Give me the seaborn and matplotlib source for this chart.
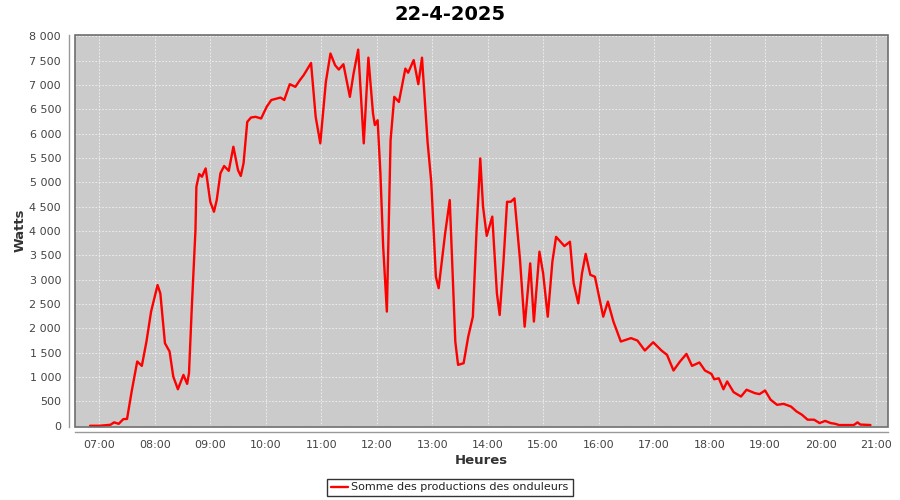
import matplotlib
matplotlib.use("Agg")
import matplotlib.pyplot as plt
import matplotlib.ticker as mticker
from matplotlib.patches import Rectangle
import seaborn as sns
import pandas as pd

times = [
    "06:50", "07:00", "07:12", "07:16", "07:21", "07:26", "07:30", "07:35", "07:41", "07:46",
    "07:51", "07:56", "08:03", "08:06", "08:11", "08:16", "08:20", "08:25", "08:31", "08:35",
    "08:37", "08:40", "08:44", "08:45", "08:48", "08:51", "08:55", "09:00", "09:04", "09:07",
    "09:11", "09:15", "09:20", "09:25", "09:30", "09:33", "09:36", "09:40", "09:44", "09:49",
    "09:55", "10:01", "10:06", "10:16", "10:20", "10:26", "10:32", "10:37", "10:41", "10:49",
    "10:54", "10:59", "11:05", "11:10", "11:15", "11:19", "11:24", "11:31", "11:35", "11:40",
    "11:46", "11:51", "11:56", "11:58", "12:01", "12:04", "12:07", "12:11", "12:15", "12:19",
    "12:24", "12:31", "12:34", "12:40", "12:45", "12:49", "12:55", "12:59", "13:04", "13:07",
    "13:14", "13:19", "13:25", "13:28", "13:34", "13:39", "13:44", "13:48", "13:52", "13:55",
    "13:59", "14:05", "14:10", "14:13", "14:17", "14:21", "14:25", "14:29", "14:35", "14:40",
    "14:46", "14:50", "14:56", "15:00", "15:05", "15:10", "15:14", "15:23", "15:29", "15:33",
    "15:38", "15:42", "15:46", "15:51", "15:56", "15:59", "16:05", "16:10", "16:16", "16:24",
    "16:35", "16:42", "16:50", "16:59", "17:08", "17:14", "17:21", "17:28", "17:35", "17:41",
    "17:49", "17:55", "18:02", "18:05", "18:10", "18:15", "18:19", "18:26", "18:34", "18:40",
    "18:49", "18:54", "19:00", "19:06", "19:13", "19:20", "19:28", "19:34", "19:40", "19:46",
    "19:53", "19:59", "20:05", "20:11", "20:16", "20:20", "20:36", "20:40", "20:43", "20:54",
]
watts = [
    0, 0, 20, 70, 40, 137, 140, 705, 1320, 1230,
    1730, 2345, 2890, 2720, 1695, 1525, 1010, 750, 1045, 860,
    1080, 2415, 4020, 4910, 5170, 5115, 5285, 4600, 4395, 4635,
    5185, 5335, 5235, 5730, 5250, 5130, 5390, 6240, 6330, 6345,
    6310, 6550, 6690, 6740, 6690, 7015, 6960, 7100, 7200, 7450,
    6345, 5800, 7060, 7645, 7405, 7315, 7425, 6755, 7235, 7725,
    5800, 7560, 6415, 6175, 6275, 5185, 3680, 2345, 5865, 6755,
    6650, 7335, 7250, 7510, 7015, 7560, 5830, 5010, 3060, 2825,
    3950, 4635, 1730, 1250, 1285, 1830, 2240, 4020, 5490, 4500,
    3900, 4295, 2720, 2275, 3335, 4600, 4600, 4670, 3405, 2035,
    3335, 2140, 3575, 3130, 2240, 3370, 3880, 3690, 3780, 2925,
    2515, 3130, 3530, 3100, 3060, 2790, 2240, 2550, 2140, 1730,
    1800, 1750, 1545, 1715, 1545, 1455, 1135, 1320, 1475, 1230,
    1300, 1135, 1065, 955, 975, 750, 910, 690, 600, 740,
    670, 650, 725, 535, 430, 450, 395, 295, 225, 125,
    125, 55, 100, 55, 40, 15, 15, 70, 25, 15,
]
x_tick_labels = ["07:00", "08:00", "09:00", "10:00", "11:00", "12:00", "13:00",
                 "14:00", "15:00", "16:00", "17:00", "18:00", "19:00", "20:00", "21:00"]
y_ticks = list(range(0, 8001, 500))
title = "22-4-2025"
series_name = "Somme des productions des onduleurs"

def to_hours(s):
    h, m = s.split(":")
    return int(h) + int(m) / 60.0

df = pd.DataFrame({"Heure": [to_hours(t) for t in times], "Watts": watts})

sns.set_style("white")
plt.rcParams["font.family"] = ["DejaVu Sans"]

fig = plt.figure(figsize=(9, 5), dpi=100)
ax_l, ax_w = 75 / 900, 813 / 900
ax = fig.add_axes([ax_l, 1 - 426.5 / 500, ax_w, 391.5 / 500])
ax.set_facecolor("#cbcbcb")

sns.lineplot(data=df, x="Heure", y="Watts", color="#ff0000", linewidth=1.7,
             ax=ax, label=series_name, solid_joinstyle="round", zorder=3)

ax.set_xlim(6.562, 21.216)
ax.set_ylim(-15, 8025)
xt = [to_hours(t) for t in x_tick_labels]
ax.set_xticks(xt)
ax.set_xticklabels(x_tick_labels)
ax.set_yticks(y_ticks)
ax.yaxis.set_major_formatter(mticker.FuncFormatter(
    lambda v, p: f"{int(v):,}".replace(",", "\u00a0")))

ax.grid(True, color="#f2f2f2", linestyle=(0, (2, 2)), linewidth=0.6, zorder=0)
ax.set_axisbelow(True)

for side in ["top", "right"]:
    ax.spines[side].set_visible(False)
ax.spines["left"].set_position(("outward", 4))
ax.spines["bottom"].set_position(("outward", 4))
for side in ["left", "bottom"]:
    ax.spines[side].set_color("#999999")
    ax.spines[side].set_linewidth(1.0)
ax.add_patch(Rectangle((0, 0), 1, 1, transform=ax.transAxes, fill=False,
                       edgecolor="#6e6e6e", linewidth=1.2, zorder=5, clip_on=False))

ax.tick_params(axis="both", which="major", direction="out", length=3, width=0.8,
               color="#999999", labelcolor="#444444", labelsize=8, pad=3)

ax.set_xlabel("Heures", fontsize=9.5, fontweight="bold", color="#333333")
ax.set_ylabel("Watts", fontsize=9.5, fontweight="bold", color="#333333")
ax.xaxis.set_label_coords(0.5, -34 / 391.5, transform=ax.transAxes)
ax.yaxis.set_label_coords((20 - 75) / 813, 0.5, transform=ax.transAxes)
ax.xaxis.label.set_verticalalignment("center")
ax.yaxis.label.set_verticalalignment("center")
fig.text(0.5, 1 - 14 / 500, title, fontsize=14, fontweight="bold",
         color="black", ha="center", va="center")

leg_x = (450 / 900 - ax_l) / ax_w
leg = ax.legend(loc="center", bbox_to_anchor=(leg_x, -61 / 391.5),
                frameon=True, fancybox=False, fontsize=8, handlelength=1.5,
                borderpad=0.35, handletextpad=0.3, borderaxespad=0)
leg.get_frame().set_edgecolor("black")
leg.get_frame().set_linewidth(1.0)
for t in leg.get_texts():
    t.set_color("#222222")
for line in leg.get_lines():
    line.set_linewidth(1.7)

fig.savefig("out.png", dpi=100)
